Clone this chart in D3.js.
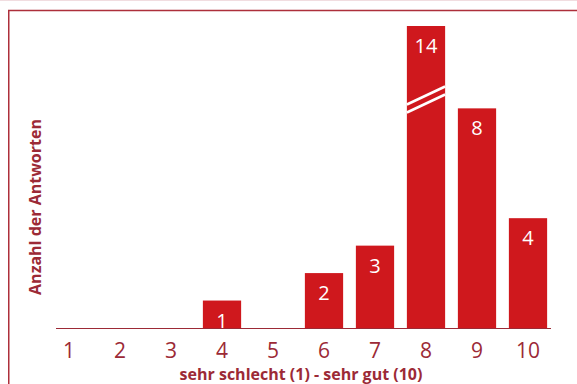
<!DOCTYPE html>
<html>
<head>
<meta charset="utf-8">
<script src="https://cdn.jsdelivr.net/npm/d3@7"></script>
<style>
  html, body { margin: 0; padding: 0; background: #ffffff; }
  svg { display: block; }
</style>
</head>
<body>
<svg id="chart" width="577" height="384"></svg>
<script>
// ---- data ----
const categories = ["1", "2", "3", "4", "5", "6", "7", "8", "9", "10"];
const values = [0, 0, 0, 1, 0, 2, 3, 14, 8, 4];
const yAxisMax = 11;          // axis is broken above this value
const xTitle = "sehr schlecht (1) - sehr gut (10)";
const yTitle = "Anzahl der Antworten";

// ---- styles ----
const barColor = "#cf181d";
const textColor = "#9c2a36";
const frameColor = "#ad2f3b";
const font = "'Open Sans', 'DejaVu Sans', sans-serif";

const svg = d3.select("#chart");
const W = 577, H = 384;
const baseY = 328, topY = 26;

const x = d3.scaleBand()
  .domain(categories)
  .range([43.5, 553.5])
  .paddingInner(0.25)
  .paddingOuter(0.125);

const y = d3.scaleLinear().domain([0, yAxisMax]).range([baseY, topY]);

// frame
svg.append("path")
  .attr("d", `M8.75,${H} V10.5 H${W}`)
  .attr("fill", "none")
  .attr("stroke", frameColor)
  .attr("stroke-width", 1.5);
svg.append("line")
  .attr("x1", 0).attr("x2", W).attr("y1", 0.5).attr("y2", 0.5)
  .attr("stroke", "#f1dde0").attr("stroke-width", 1);

// bars
const bars = categories.map((c, i) => ({ c, v: values[i], shown: Math.min(values[i], yAxisMax) }));

svg.append("g").selectAll("rect")
  .data(bars.filter(d => d.v > 0))
  .join("rect")
  .attr("x", d => x(d.c))
  .attr("width", x.bandwidth())
  .attr("y", d => y(d.shown))
  .attr("height", d => baseY - y(d.shown))
  .attr("fill", barColor);

// axis break marks on truncated bars
bars.filter(d => d.v > yAxisMax).forEach(d => {
  const x0 = x(d.c), x1 = x(d.c) + x.bandwidth();
  [0, 8].forEach(off => {
    svg.append("line")
      .attr("x1", x0).attr("y1", 104.5 + off)
      .attr("x2", x1).attr("y2", 86.5 + off)
      .attr("stroke", "#ffffff")
      .attr("stroke-width", 2.6);
  });
});

// value labels
svg.append("g").selectAll("text")
  .data(bars.filter(d => d.v > 0))
  .join("text")
  .attr("x", d => x(d.c) + x.bandwidth() / 2)
  .attr("y", d => y(d.shown) + 27)
  .attr("text-anchor", "middle")
  .attr("fill", "#ffffff")
  .attr("font-family", font)
  .attr("font-size", 20)
  .text(d => d.v);

// x axis
const xAxis = d3.axisBottom(x).tickSize(0).tickPadding(0);
const gx = svg.append("g").attr("transform", `translate(0,${baseY})`).call(xAxis);
gx.select(".domain").remove();
gx.selectAll("text")
  .attr("dy", null)
  .attr("y", 30)
  .attr("fill", textColor)
  .attr("font-family", font)
  .attr("font-size", 21);

svg.append("line")
  .attr("x1", 56).attr("x2", 551)
  .attr("y1", baseY + 0.5).attr("y2", baseY + 0.5)
  .attr("stroke", textColor)
  .attr("stroke-width", 1.2);

// titles
svg.append("text")
  .attr("x", 301).attr("y", 380)
  .attr("text-anchor", "middle")
  .attr("fill", textColor)
  .attr("font-family", font)
  .attr("font-weight", "bold")
  .attr("font-size", 16)
  .text(xTitle);

svg.append("text")
  .attr("transform", "translate(40.5,207) rotate(-90)")
  .attr("text-anchor", "middle")
  .attr("fill", textColor)
  .attr("font-family", font)
  .attr("font-weight", "bold")
  .attr("font-size", 16)
  .text(yTitle);
</script>
</body>
</html>
